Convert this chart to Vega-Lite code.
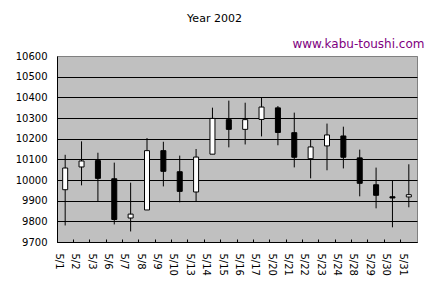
{
  "$schema": "https://vega.github.io/schema/vega-lite/v6.json",
  "autosize": "none",
  "padding": {"left": 57, "top": 56, "right": 15, "bottom": 47},
  "width": 360,
  "height": 186,
  "background": "white",
  "data": {
    "values": [
      {"date": "5/1", "open": 9953, "close": 10058, "high": 10122, "low": 9780},
      {"date": "5/2", "open": 10063, "close": 10092, "high": 10187, "low": 9974},
      {"date": "5/3", "open": 10094, "close": 10008, "high": 10132, "low": 9898},
      {"date": "5/6", "open": 10006, "close": 9809, "high": 10084, "low": 9785},
      {"date": "5/7", "open": 9816, "close": 9835, "high": 9987, "low": 9751},
      {"date": "5/8", "open": 9855, "close": 10142, "high": 10203, "low": 9855},
      {"date": "5/9", "open": 10142, "close": 10042, "high": 10185, "low": 9969},
      {"date": "5/10", "open": 10040, "close": 9945, "high": 10118, "low": 9892},
      {"date": "5/13", "open": 9942, "close": 10111, "high": 10150, "low": 9898},
      {"date": "5/14", "open": 10125, "close": 10298, "high": 10350, "low": 10125},
      {"date": "5/15", "open": 10292, "close": 10245, "high": 10384, "low": 10158},
      {"date": "5/16", "open": 10245, "close": 10292, "high": 10374, "low": 10172},
      {"date": "5/17", "open": 10293, "close": 10353, "high": 10400, "low": 10211},
      {"date": "5/20", "open": 10349, "close": 10230, "high": 10358, "low": 10168},
      {"date": "5/21", "open": 10229, "close": 10110, "high": 10326, "low": 10061},
      {"date": "5/22", "open": 10103, "close": 10160, "high": 10197, "low": 10008},
      {"date": "5/23", "open": 10165, "close": 10218, "high": 10273, "low": 10047},
      {"date": "5/24", "open": 10213, "close": 10110, "high": 10258, "low": 10056},
      {"date": "5/28", "open": 10107, "close": 9984, "high": 10147, "low": 9921},
      {"date": "5/29", "open": 9977, "close": 9926, "high": 10060, "low": 9863},
      {"date": "5/30", "open": 9919, "close": 9913, "high": 9998, "low": 9771},
      {"date": "5/31", "open": 9918, "close": 9929, "high": 10076, "low": 9868}
    ]
  },
  "encoding": {
    "x": {
      "field": "date",
      "type": "ordinal",
      "sort": null,
      "scale": {"paddingInner": 0, "paddingOuter": 0},
      "axis": {
        "title": "www.kabu-toushi.com",
        "titleX": 367,
        "titleY": -195,
        "titleAlign": "right",
        "titleAnchor": null,
        "titleBaseline": "alphabetic",
        "titleAngle": 0,
        "titleColor": "#800080",
        "titleFont": "DejaVu Sans",
        "titleFontSize": 12,
        "titleFontWeight": "normal",
        "labelAngle": 90,
        "labelAlign": "left",
        "labelBaseline": "middle",
        "labelPadding": 14,
        "labelOffset": -6.3,
        "bandPosition": 0,
        "tickSize": -3,
        "tickColor": "black",
        "domainColor": "black",
        "labelColor": "black",
        "labelFont": "DejaVu Sans",
        "labelFontSize": 10,
        "grid": false
      }
    },
    "y": {
      "type": "quantitative",
      "scale": {"domain": [9700, 10600], "nice": false, "zero": false},
      "axis": {
        "title": "Year 2002",
        "titleX": 157,
        "titleY": -35,
        "titleAngle": 0,
        "titleAlign": "center",
        "titleAnchor": null,
        "titleBaseline": "alphabetic",
        "titleColor": "black",
        "titleFont": "DejaVu Sans",
        "titleFontSize": 11,
        "titleFontWeight": "normal",
        "values": [9700, 9800, 9900, 10000, 10100, 10200, 10300, 10400, 10500, 10600],
        "format": "d",
        "ticks": false,
        "labelPadding": 10,
        "labelColor": "black",
        "labelFont": "DejaVu Sans",
        "labelFontSize": 10,
        "domainColor": "black",
        "grid": true,
        "gridColor": {"condition": {"test": "datum.value == 10600", "value": "#808080"}, "value": "black"},
        "gridOpacity": 1
      }
    }
  },
  "layer": [
    {
      "mark": {"type": "rule", "color": "black", "strokeWidth": 1},
      "encoding": {
        "y": {"field": "low", "type": "quantitative"},
        "y2": {"field": "high"}
      }
    },
    {
      "mark": {"type": "bar", "size": 5, "stroke": "black", "strokeWidth": 1},
      "encoding": {
        "y": {"field": "open", "type": "quantitative"},
        "y2": {"field": "close"},
        "fill": {
          "condition": {"test": "datum.close > datum.open", "value": "white"},
          "value": "black"
        }
      }
    }
  ],
  "config": {
    "view": {"fill": "#C0C0C0", "stroke": "#808080", "strokeWidth": 1}
  }
}
